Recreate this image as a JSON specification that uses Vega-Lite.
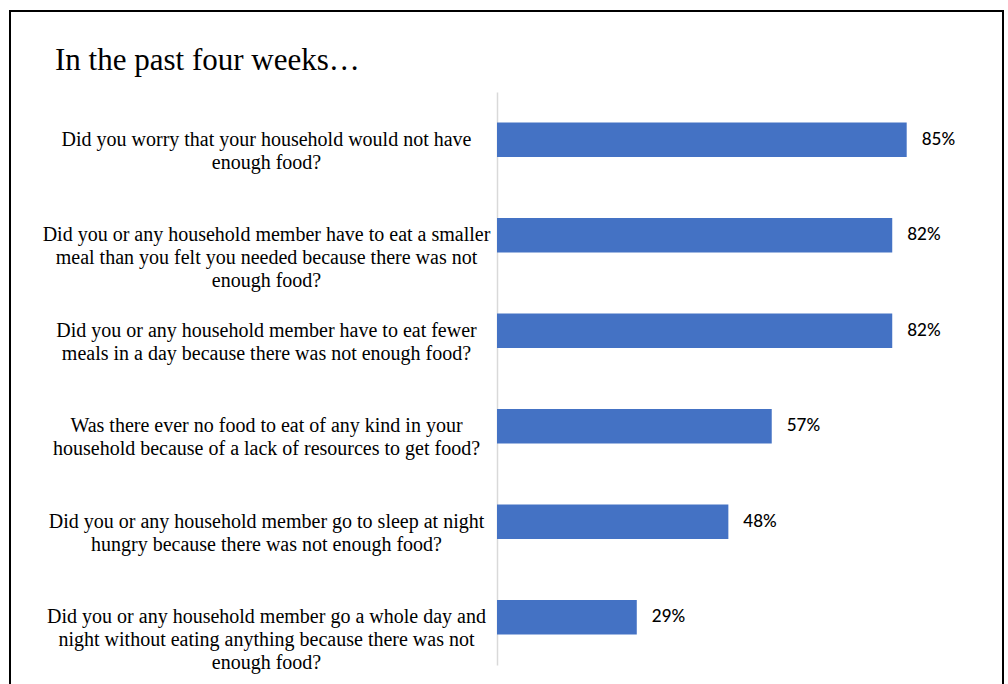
{
  "$schema": "https://vega.github.io/schema/vega-lite/v6.json",
  "width": 993,
  "height": 690,
  "padding": {"left": 10, "top": 11, "right": 4, "bottom": 0},
  "background": "white",
  "title": {
    "text": "In the past four weeks…",
    "anchor": "start",
    "frame": "group",
    "font": "Liberation Serif",
    "fontSize": 31,
    "fontWeight": "normal",
    "color": "#000000",
    "baseline": "alphabetic",
    "offset": -90,
    "dx": 45
  },
  "config": {
    "view": {"stroke": "#000000", "strokeWidth": 2}
  },
  "data": {
    "values": [
      {"q": "Did you worry that your household would not have|enough food?", "pct": 0.85},
      {"q": "Did you or any household member have to eat a smaller|meal than you felt you needed because there was not|enough food?", "pct": 0.82},
      {"q": "Did you or any household member have to eat fewer|meals in a day because there was not enough food?", "pct": 0.82},
      {"q": "Was there ever no food to eat of any kind in your|household because of a lack of resources to get food?", "pct": 0.57},
      {"q": "Did you or any household member go to sleep at night|hungry because there was not enough food?", "pct": 0.48},
      {"q": "Did you or any household member go a whole day and|night without eating anything because there was not|enough food?", "pct": 0.29}
    ]
  },
  "encoding": {
    "y": {
      "field": "q",
      "type": "nominal",
      "sort": null,
      "scale": {"range": [81, 654], "paddingInner": 0.64, "paddingOuter": 0.32},
      "axis": {
        "title": null,
        "offset": -487,
        "ticks": false,
        "domainColor": "#d9d9d9",
        "domainWidth": 1.5,
        "labelExpr": "split(datum.label, '|')",
        "labelAlign": "center",
        "labelBaseline": "middle",
        "labelPadding": 231,
        "labelFont": "Liberation Serif",
        "labelFontSize": 20,
        "labelLineHeight": 23,
        "labelColor": "#000000",
        "labelLimit": 0
      }
    },
    "x": {
      "field": "pct",
      "type": "quantitative",
      "scale": {"domain": [0, 1], "range": [487, 969]},
      "axis": null
    }
  },
  "layer": [
    {"mark": {"type": "bar", "color": "#4472C4"}},
    {
      "mark": {"type": "text", "align": "left", "baseline": "middle", "dx": 15, "font": "Lato", "fontSize": 17, "fontWeight": 500, "color": "#000000"},
      "encoding": {"text": {"field": "pct", "type": "quantitative", "format": ".0%"}}
    }
  ]
}
